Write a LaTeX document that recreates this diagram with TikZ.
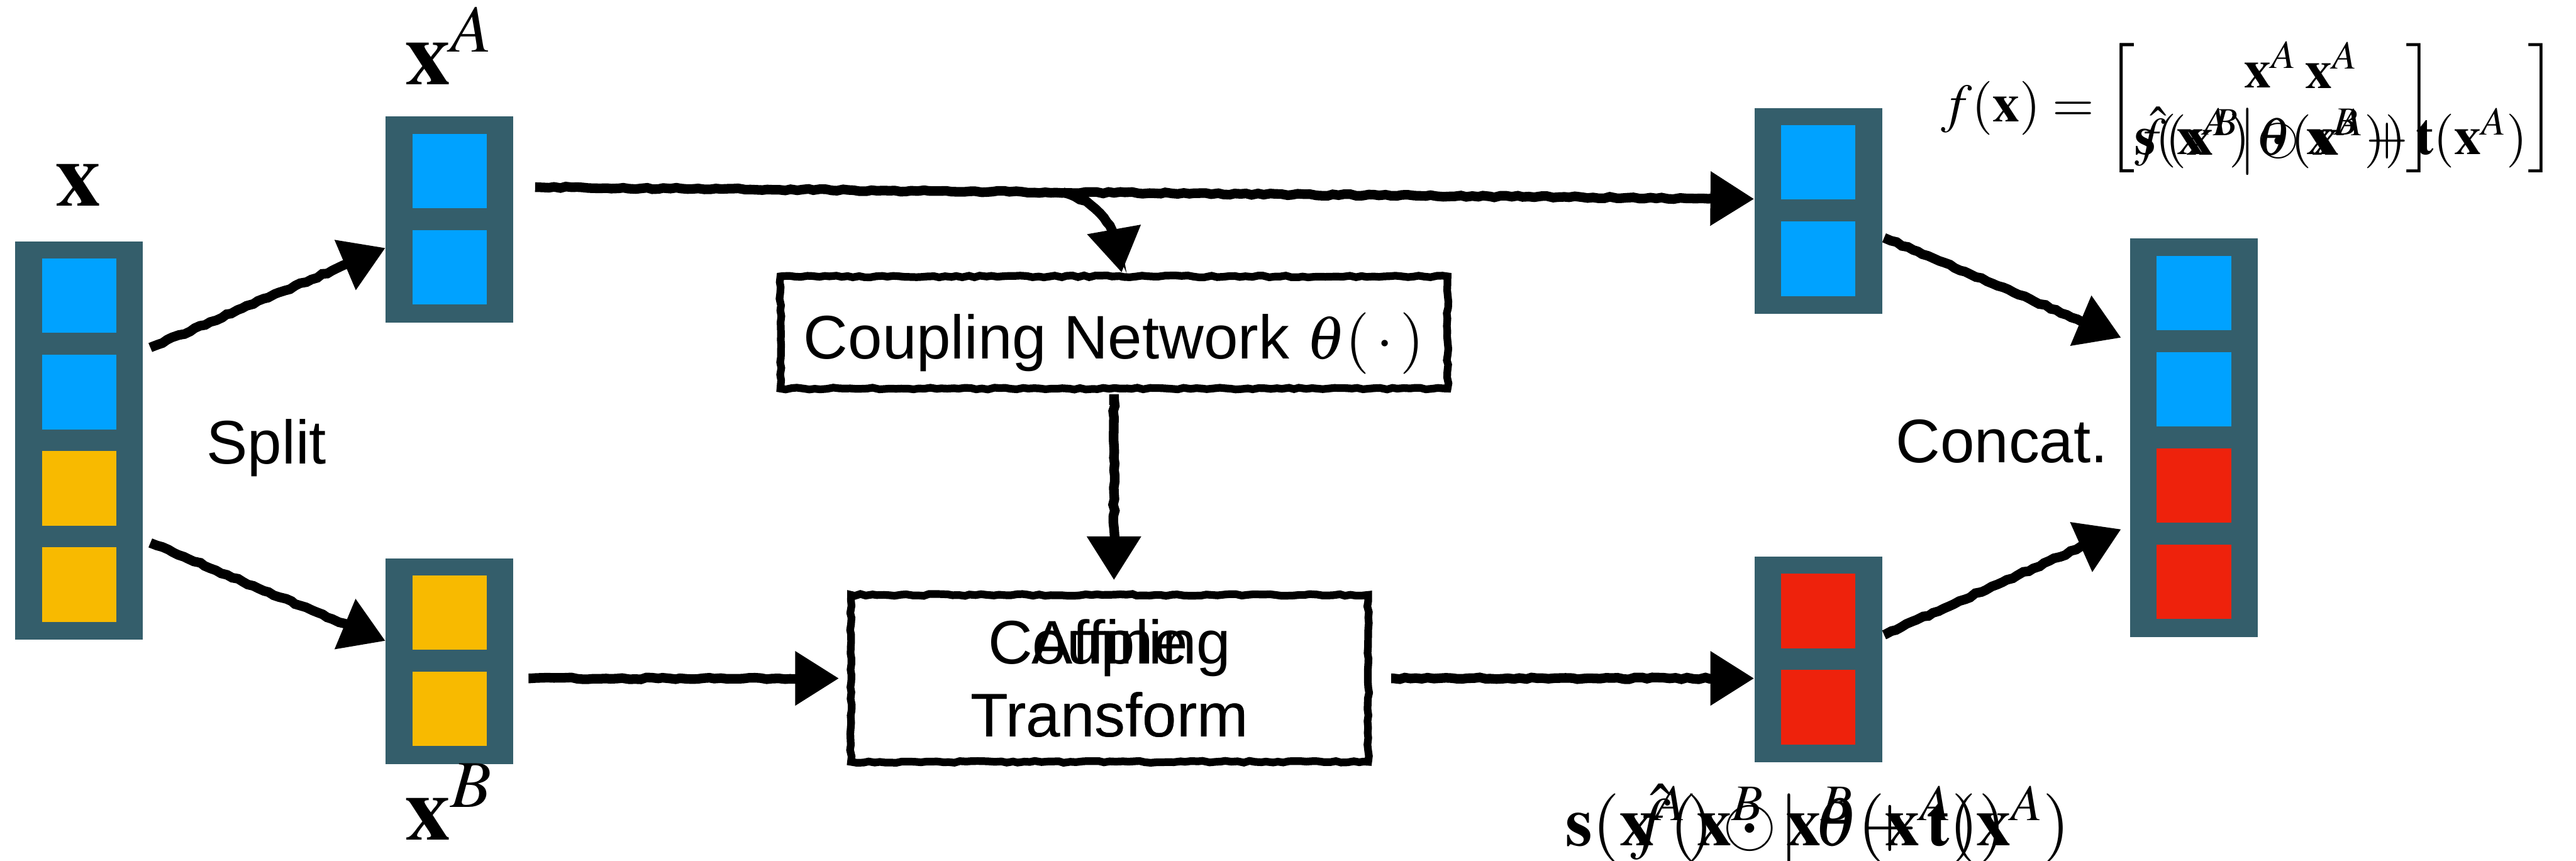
\documentclass[tikz,border=0pt]{standalone}
\usepackage{amsmath,amssymb}
\usepackage{mathptmx}
\usepackage[no-math]{fontspec}
\setsansfont{Liberation Sans}
\usetikzlibrary{arrows.meta,calc,decorations.pathmorphing}

\definecolor{slate}{HTML}{345E6B}
\definecolor{cellblue}{HTML}{00A2FF}
\definecolor{cellyellow}{HTML}{F8BA00}
\definecolor{cellred}{HTML}{EE220C}

\tikzset{
  colbox/.style={fill=slate, minimum width=2.33cm, inner sep=0pt},
  sketchy/.style={decorate, decoration={random steps, segment length=3pt, amplitude=0.5pt}},
  flow/.style={line width=5pt, -{Triangle[length=0.8cm,width=0.95cm]}, sketchy,
    decoration={pre length=1pt, post length=0.65cm}},
  opbox/.style={draw, line width=4pt, fill=white, inner sep=0pt, sketchy},
  lbl/.style={font=\fontsize{32}{38}\selectfont\sffamily, inner sep=0pt},
  vec/.style={font=\fontsize{47}{56}\selectfont, inner sep=0pt},
}

% coloured cells of a column, top to bottom
\newcommand{\fillcells}[2]{%
  \foreach \clr [count=\ci] in {#2}
    \fill[\clr] ($(#1.north)+(-0.68,{-0.32-(\ci-1)*1.76})$) rectangle ++(1.36,-1.36);
}

\begin{document}
\begin{tikzpicture}
\useasboundingbox (0,0) rectangle (47.07,-15.73);

% input, halves and output
\node[colbox, minimum height=7.28cm] (x) at (1.445,-8.05) {};
\fillcells{x}{cellblue,cellblue,cellyellow,cellyellow}
\node[colbox, minimum height=3.76cm] (xa) at (8.215,-4.01) {};
\fillcells{xa}{cellblue,cellblue}
\node[colbox, minimum height=3.76cm] (xb) at (8.215,-12.08) {};
\fillcells{xb}{cellyellow,cellyellow}
\node[colbox, minimum height=3.76cm] (ya) at (33.225,-3.855) {};
\fillcells{ya}{cellblue,cellblue}
\node[colbox, minimum height=3.76cm] (yb) at (33.225,-12.05) {};
\fillcells{yb}{cellred,cellred}
\node[colbox, minimum height=7.28cm] (y) at (40.09,-8.0) {};
\fillcells{y}{cellblue,cellblue,cellred,cellred}

% labels
\node[vec, anchor=base] (lx) at (1.43,-3.76) {$\mathbf{x}$};
\node[vec, anchor=base] (lxa) at (8.2,-1.55) {$\mathbf{x}^A$};
\node[vec, anchor=base] (lxb) at (8.2,-15.35) {$\mathbf{x}^B$};
\node[lbl, anchor=base] (split) at (4.87,-8.47) {Split};
\node[lbl, anchor=base] (concat) at (36.58,-8.45) {Concat.};

% coupling network and transform
\node[opbox, lbl, text height=1.1cm, text depth=0.14cm, minimum width=12.19cm, minimum height=2.05cm] (net) at (20.355,-6.075) {Coupling Network $\theta(\,\cdot\,)$};
\node[opbox, lbl, align=center, minimum width=9.45cm, minimum height=3.05cm] (aff) at (20.275,-12.395) {Coupling\\Transform};
\node[lbl, align=center] (afftxt) at (aff) {Affine\\Transform};

% formulas
\node[anchor=base west, inner sep=0pt, font=\fontsize{28}{34}\selectfont] (fx) at (35.46,-2.22)
  {$f(\mathbf{x}) = \begin{bmatrix} \mathbf{x}^A \\ \mathbf{s}(\mathbf{x}^A)\odot\mathbf{x}^B + \mathbf{t}(\mathbf{x}^A) \end{bmatrix}$};
\node[anchor=base west, inner sep=0pt, font=\fontsize{28}{34}\selectfont] (fxhat) at (35.46,-2.22)
  {$\hphantom{f(\mathbf{x})}\mathrel{\phantom{=}}\begin{bmatrix} \mathbf{x}^A \\ \hat{f}(\mathbf{x}^B \big| \theta(\mathbf{x}^A)) \end{bmatrix}$};
\node[anchor=base, inner sep=0pt, font=\fontsize{36}{43}\selectfont] (yfml) at (33.22,-15.45)
  {$\mathbf{s}(\mathbf{x}^A)\odot\mathbf{x}^B+\mathbf{t}(\mathbf{x}^A)$};
\node[anchor=base, inner sep=0pt, font=\fontsize{36}{43}\selectfont] (yfmlhat) at (33.22,-15.45)
  {$\hat{f}(\mathbf{x}^B \mid \theta(\mathbf{x}^A))$};

% arrows
\draw[flow] ([xshift=0.13cm,yshift=1.7cm]x.east) -- ([yshift=-0.52cm]xa.west);
\draw[flow] ([xshift=0.13cm,yshift=-1.87cm]x.east) -- ([yshift=0.37cm]xb.west);
\draw[flow] ([xshift=0.39cm,yshift=0.59cm]xa.east) coordinate (tap0) -- ([yshift=0.22cm]ya.west) coordinate (tap1);
\coordinate (tap) at ($(tap0)!0.433!(tap1)$);
\draw[flow] (tap) to[out=-15,in=90] ([xshift=0.14cm]net.north);
\draw[flow, shorten <=0.23cm, shorten >=0.2cm] (net.south) -- (net.south |- aff.north);
\draw[flow] ($(xb.east |- aff.west)+(0.27,0)$) -- ($(aff.west)+(-0.15,0)$);
\draw[flow] ($(aff.east)+(0.35,0)$) -- (yb.west |- aff.east);
\draw[flow] ([xshift=0.03cm,yshift=-0.49cm]ya.east) -- ([xshift=-0.16cm,yshift=1.83cm]y.west);
\draw[flow] ([xshift=0.03cm,yshift=0.45cm]yb.east) -- ([xshift=-0.16cm,yshift=-1.67cm]y.west);
\end{tikzpicture}
\end{document}
